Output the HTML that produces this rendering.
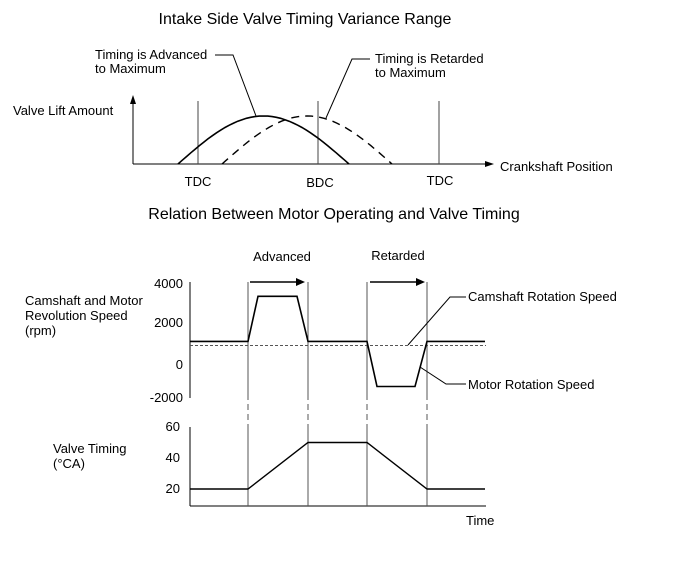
<!DOCTYPE html>
<html><head><meta charset="utf-8"><style>
body{margin:0;background:#fff}
svg text{font-family:"Liberation Sans",sans-serif;font-size:13px;fill:#000}
</style></head><body>
<svg width="688" height="560" xmlns="http://www.w3.org/2000/svg">
<text x="305" y="24" text-anchor="middle" style="font-size:16px">Intake Side Valve Timing Variance Range</text>
<g stroke="#000" fill="none" stroke-width="1">
<line x1="133" y1="164" x2="133" y2="100"/>
<line x1="133" y1="164" x2="486" y2="164"/>
<line x1="198" y1="101" x2="198" y2="164" stroke="#444"/>
<line x1="318" y1="101" x2="318" y2="164" stroke="#444"/>
<line x1="439" y1="101" x2="439" y2="164" stroke="#444"/>
<path id="adv" stroke-width="1.6"/>
<path id="ret" stroke-width="1.4" stroke-dasharray="8,6"/>
<polyline points="215,55 233,55 256,116"/>
<polyline points="370,59 352,59 326,118"/>
</g>
<polygon points="133,95 130,104 136,104" fill="#000"/>
<polygon points="494,164 485,161 485,167" fill="#000"/>
<text x="95" y="59">Timing is Advanced</text>
<text x="95" y="73">to Maximum</text>
<text x="375" y="63">Timing is Retarded</text>
<text x="375" y="77">to Maximum</text>
<text x="13" y="115">Valve Lift Amount</text>
<text x="500" y="171">Crankshaft Position</text>
<text x="198" y="186" text-anchor="middle">TDC</text>
<text x="320" y="187" text-anchor="middle">BDC</text>
<text x="440" y="185" text-anchor="middle">TDC</text>

<text x="334" y="219" text-anchor="middle" style="font-size:16px">Relation Between Motor Operating and Valve Timing</text>
<text x="282" y="261" text-anchor="middle">Advanced</text>
<text x="398" y="260" text-anchor="middle">Retarded</text>
<text x="25" y="305">Camshaft and Motor</text>
<text x="25" y="320">Revolution Speed</text>
<text x="25" y="335">(rpm)</text>
<text x="53" y="453">Valve Timing</text>
<text x="53" y="468">(°CA)</text>
<text x="468" y="301">Camshaft Rotation Speed</text>
<text x="468" y="389">Motor Rotation Speed</text>
<text x="466" y="525">Time</text>
<g id="g2" stroke="#000" fill="none"></g>
<g id="g3"></g>
</svg>
<script>
// top lift curves: [start, end, peakY]
const advCurve=[178,349,116];
const retCurve=[222,392,116];
function lift(c){let d='';for(let i=0;i<=40;i++){const t=i/40;const x=c[0]+(c[1]-c[0])*t;const y=164-(164-c[2])*Math.sin(Math.PI*t);d+=(i?'L':'M')+x.toFixed(1)+','+y.toFixed(1);}return d;}
document.getElementById('adv').setAttribute('d',lift(advCurve));
document.getElementById('ret').setAttribute('d',lift(retCurve));

const speedTicks=[4000,2000,0,-2000];
const speedTickY=[284,323,365,398];
const timingTicks=[60,40,20];
const timeX=[190,248,258,297,308,367,377,415,427,485];
const motorSpeed=[1150,1150,3350,3350,1150,1150,-1050,-1050,1150,1150];
const camSpeed=950;
const valveX=[190,248,308,367,427,485];
const valveTiming=[20,20,50,50,20,20];
const sy=v=>365-v*0.0205;
const ty=v=>489-(v-20)*1.55;
const NS='http://www.w3.org/2000/svg';
const g=document.getElementById('g2'),g3=document.getElementById('g3');
function mk(t,a,p){const e=document.createElementNS(NS,t);for(const k in a)e.setAttribute(k,a[k]);(p||g).appendChild(e);return e;}
let e;
e=mk('line',{x1:190,y1:282,x2:190,y2:398});


e=mk('line',{x1:190,y1:427,x2:190,y2:506});


e=mk('line',{x1:190,y1:506,x2:486,y2:506});


speedTicks.forEach((v,i)=>{
 e=mk('text',{x:183,y:speedTickY[i]+4,'text-anchor':'end'},g3);e.textContent=v;
 
 
});
timingTicks.forEach(v=>{
 e=mk('text',{x:180,y:ty(v)+4,'text-anchor':'end'},g3);e.textContent=v;
 
 
});
[248,308,367,427].forEach(x=>{
 e=mk('line',{x1:x,y1:282,x2:x,y2:400,stroke:'#555'});
 
 
 e=mk('line',{x1:x,y1:404,x2:x,y2:410,stroke:'#555'});
 
 
 e=mk('line',{x1:x,y1:414,x2:x,y2:420,stroke:'#555'});
 
 
 e=mk('line',{x1:x,y1:424,x2:x,y2:506,stroke:'#555'});
 
 
});
[[250,305],[370,425]].forEach(a=>{
 e=mk('line',{x1:a[0],y1:282,x2:a[1]-6,y2:282,'stroke-width':1.5});
 
 
 e=mk('polygon',{points:`${a[1]},282 ${a[1]-9},278 ${a[1]-9},286`,fill:'#000',stroke:'none'});
 
 
});
e=mk('line',{x1:190,y1:sy(camSpeed),x2:486,y2:sy(camSpeed),stroke:'#555','stroke-dasharray':'3,2'});


e=mk('polyline',{points:timeX.map((x,i)=>x+','+sy(motorSpeed[i]).toFixed(1)).join(' '),'stroke-width':1.6});


e=mk('polyline',{points:valveX.map((x,i)=>x+','+ty(valveTiming[i]).toFixed(1)).join(' '),'stroke-width':1.4});


e=mk('polyline',{points:'466,297 450,297 408,345'});


e=mk('polyline',{points:'466,384 446,384 420,367'});


</script>
</body></html>
